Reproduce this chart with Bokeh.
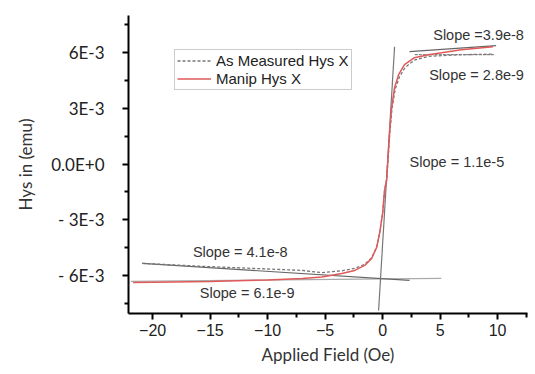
from bokeh.plotting import figure
from bokeh.models import Range1d, FixedTicker, Legend, LegendItem, Label
from bokeh.embed import file_html
from bokeh.resources import INLINE

# ---- data ----
manip_x = [-21.7, -15, -10, -7, -5.28, -3.55, -2.42, -1.56, -0.95, -0.52, -0.26, 0.0, 0.17, 0.35,
           0.61, 0.78, 1.04, 1.39, 1.9, 2.77, 3.98, 6.84, 9.6]
manip_y = [-6.38e-3, -6.32e-3, -6.24e-3, -6.16e-3, -6.09e-3, -5.89e-3, -5.73e-3, -5.46e-3, -5.08e-3,
           -4.49e-3, -3.73e-3, -2.65e-3, -1.41e-3, -0.86e-3,
           1.73e-3, 3.03e-3, 4.11e-3, 4.81e-3, 5.35e-3, 5.73e-3, 5.89e-3, 6.16e-3, 6.32e-3]

meas_x = [-20.9, -15.7, -11.3, -7.0, -5.28, -3.55, -2.42, -1.56, -0.95, -0.52, -0.26, 0.0, 0.17, 0.35,
          0.63, 0.82, 1.1, 1.47, 1.95, 2.77, 3.98, 6.84, 9.6]
meas_y = [-5.35e-3, -5.51e-3, -5.62e-3, -5.73e-3, -5.85e-3, -5.75e-3, -5.62e-3, -5.4e-3, -5.05e-3,
          -4.47e-3, -3.72e-3, -2.65e-3, -1.41e-3, -0.86e-3,
          1.7e-3, 3.0e-3, 4.05e-3, 4.7e-3, 5.2e-3, 5.6e-3, 5.8e-3, 5.89e-3, 5.92e-3]

fit_low_steep_x = [-20.9, 2.34]
fit_low_steep_y = [-5.35e-3, -6.27e-3]
fit_low_flat_x = [-21.9, 5.1]
fit_low_flat_y = [-6.32e-3, -6.16e-3]
fit_center_x = [-0.35, 1.04]
fit_center_y = [-7.89e-3, 6.32e-3]
fit_top_steep_x = [2.34, 9.87]
fit_top_steep_y = [6.05e-3, 6.38e-3]
fit_top_flat_x = [2.8, 9.7]
fit_top_flat_y = [5.89e-3, 5.89e-3]

slope_labels = ["Slope =3.9e-8", "Slope = 2.8e-9", "Slope = 1.1e-5", "Slope = 4.1e-8", "Slope = 6.1e-9"]
slope_label_x = [4.4, 4.05, 2.34, -16.5, -15.9]
slope_label_y = [6.97e-3, 4.81e-3, 0.11e-3, -4.76e-3, -6.97e-3]

x_ticks = [-20, -15, -10, -5, 0, 5, 10]
x_minor = [-22.5, -17.5, -12.5, -7.5, -2.5, 2.5, 7.5, 12.5]
y_ticks = [6e-3, 3e-3, 0.0, -3e-3, -6e-3]
y_tick_labels = ["6E-3", "3E-3", "0.0E+0", "- 3E-3", "- 6E-3"]
y_minor = [7.5e-3, 4.5e-3, 1.5e-3, -1.5e-3, -4.5e-3, -7.5e-3]

# ---- figure ----
p = figure(width=535, height=374, output_backend="svg", toolbar_location=None,
           x_range=Range1d(-22.1, 12.6), y_range=Range1d(-8.05e-3, 8.0e-3),
           min_border_left=128, min_border_right=8, min_border_top=15, min_border_bottom=61)
p.outline_line_color = None
p.grid.visible = False
p.background_fill_color = "white"

# axes
for ax in (p.xaxis[0], p.yaxis[0]):
    ax.axis_line_color = "black"
    ax.axis_line_width = 2
    ax.major_tick_line_color = "black"
    ax.minor_tick_line_color = "black"
    ax.major_tick_line_width = 2
    ax.minor_tick_line_width = 2
    ax.major_tick_out = 6
    ax.major_tick_in = 0
    ax.minor_tick_out = 4
    ax.minor_tick_in = 0
    ax.major_label_text_color = "#222222"
    ax.axis_label_text_color = "#333333"
    ax.axis_label_text_font_style = "normal"

p.xaxis.ticker = FixedTicker(ticks=x_ticks, minor_ticks=x_minor)
p.xaxis.major_label_text_font = "Liberation Sans"
p.xaxis.major_label_text_font_size = "16px"
p.xaxis.major_label_standoff = 4
p.xaxis.axis_label = "Applied Field (Oe)"
p.xaxis.axis_label_text_font = "Lato"
p.xaxis.axis_label_text_font_size = "17px"
p.xaxis.axis_label_standoff = 5

p.yaxis.ticker = FixedTicker(ticks=y_ticks, minor_ticks=y_minor)
p.yaxis.major_label_overrides = {v: s for v, s in zip(y_ticks, y_tick_labels)}
p.yaxis.major_label_text_font = "Lato"
p.yaxis.major_label_text_font_size = "17px"
p.yaxis.major_label_standoff = 18
p.yaxis.axis_label = "Hys in (emu)"
p.yaxis.axis_label_text_font = "Lato"
p.yaxis.axis_label_text_font_size = "17px"
p.yaxis.axis_label_standoff = 12

# fit lines
p.line(fit_low_flat_x, fit_low_flat_y, line_color="#aaaaaa", line_width=1.2)
p.line(fit_low_steep_x, fit_low_steep_y, line_color="#666666", line_width=1.2)
p.line(fit_center_x, fit_center_y, line_color="#777777", line_width=1.2)
p.line(fit_top_steep_x, fit_top_steep_y, line_color="#666666", line_width=1.2)
p.line(fit_top_flat_x, fit_top_flat_y, line_color="#888888", line_width=1.2, line_dash="3 1")

# curves
r_meas = p.line(meas_x, meas_y, line_color="#777777", line_width=1.3, line_dash="3 2")
r_manip = p.line(manip_x, manip_y, line_color="#e05a5a", line_width=1.5)

# slope annotations
for t, lx, ly in zip(slope_labels, slope_label_x, slope_label_y):
    p.add_layout(Label(x=lx, y=ly, text=t, text_font="Liberation Sans", text_font_size="14.5px",
                       text_color="#333333", text_baseline="middle", text_align="left"))

legend = Legend(items=[LegendItem(label="As Measured Hys X", renderers=[r_meas]),
                       LegendItem(label="Manip Hys X", renderers=[r_manip])],
                location=(46, 223), orientation="vertical",
                label_text_font="Liberation Sans", label_text_font_size="15px",
                label_text_color="#222222",
                glyph_width=34, glyph_height=15, label_height=15, label_standoff=5,
                spacing=1, padding=2, margin=0,
                border_line_color="#999999", border_line_width=1,
                background_fill_alpha=1.0)
p.add_layout(legend, "center")

open("out.html", "w").write(file_html(p, INLINE))
